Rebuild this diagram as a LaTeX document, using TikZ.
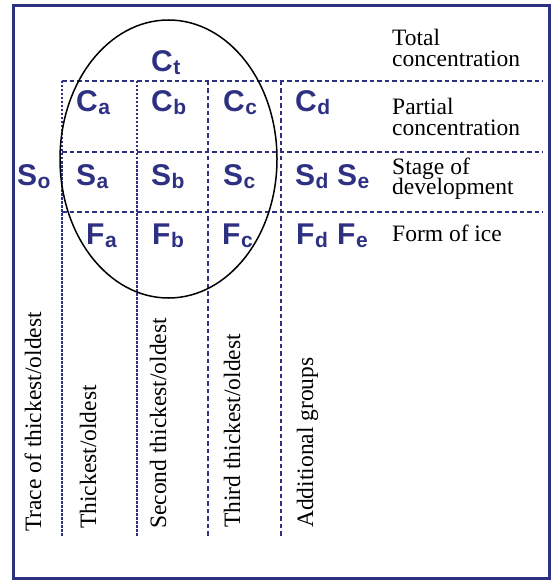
\documentclass[tikz,border=0pt]{standalone}
\usepackage{fontspec}
\setmainfont{Liberation Serif}
\newfontfamily\arialf{Liberation Sans}
\definecolor{navy}{RGB}{46,49,130}
\newcommand{\sym}[2]{{\arialf\bfseries\fontsize{30}{30}\selectfont #1\kern0.5pt\raisebox{-3pt}{\fontsize{21}{21}\selectfont #2}}}
\tikzset{
  frame/.style={draw=navy, line width=3pt},
  gridA/.style={draw=navy, line width=1.4pt, dash pattern=on 2.5pt off 1.5pt},
  gridB/.style={draw=navy, line width=1.6pt, dash pattern=on 4.5pt off 3pt},
  sym/.style={text=navy, anchor=base west, inner sep=0pt},
  lab/.style={anchor=base west, inner sep=0pt, font=\fontsize{23.5}{21}\selectfont},
  vlab/.style={anchor=base west, inner sep=0pt, rotate=90, font=\fontsize{23.5}{21}\selectfont},
  oval/.style={draw=black, line width=1.5pt}
}
\begin{document}
\begin{tikzpicture}[x=1pt,y=-1pt]
\useasboundingbox (0,0) rectangle (555,580);
\draw[frame] (13.5,5.5) rectangle (549.5,578);
% grid
\coordinate (h1l) at (62,81);  \coordinate (h1r) at (543,81);
\coordinate (h2l) at (62,152); \coordinate (h2r) at (543,152);
\coordinate (h3l) at (62,212); \coordinate (h3r) at (543,212);
\draw[gridB] (h1l) -- (h1r);
\draw[gridB] (h2l) -- (h2r);
\draw[gridB] (h3l) -- (h3r);
\coordinate (v1t) at (62,81);  \coordinate (v1b) at (62,536);
\coordinate (v2t) at (137,81); \coordinate (v2b) at (137,536);
\coordinate (v3t) at (208,81); \coordinate (v3b) at (208,536);
\coordinate (v4t) at (281,81); \coordinate (v4b) at (281,536);
\draw[gridA] (v1t) -- (v1b);
\draw[gridA] (v2t) -- (v2b);
\draw[gridB] (v3t) -- (v3b);
\draw[gridB] (v4t) -- (v4b);
% ellipse
\draw[oval] (168.5,159) ellipse [x radius=108.5, y radius=139];
% symbols
\node[sym] (Ct) at (151,72) {\sym{C}{t}};
\node[sym] (Ca) at (76,112) {\sym{C}{a}};
\node[sym] (Cb) at (151,112) {\sym{C}{b}};
\node[sym] (Cc) at (223,112) {\sym{C}{c}};
\node[sym] (Cd) at (295,112) {\sym{C}{d}};
\node[sym] (So) at (17,185) {\sym{S}{o}};
\node[sym] (Sa) at (76,185) {\sym{S}{a}};
\node[sym] (Sb) at (151,185) {\sym{S}{b}};
\node[sym] (Sc) at (223,185) {\sym{S}{c}};
\node[sym] (Sd) at (295,185) {\sym{S}{d}};
\node[sym] (Se) at (337,185) {\sym{S}{e}};
\node[sym] (Fa) at (86,244) {\sym{F}{a}};
\node[sym] (Fb) at (152,244) {\sym{F}{b}};
\node[sym] (Fc) at (222,244) {\sym{F}{c}};
\node[sym] (Fd) at (296,244) {\sym{F}{d}};
\node[sym] (Fe) at (337,244) {\sym{F}{e}};
% right labels
\node[lab] (tot1) at (392,46) {Total};
\node[lab] (tot2) at (392,67) {concentration};
\node[lab] (par1) at (392,115) {Partial};
\node[lab] (par2) at (392,136) {concentration};
\node[lab] (sta1) at (392,175) {Stage of};
\node[lab] (sta2) at (392,194) {development};
\node[lab] (for1) at (392,241) {Form of ice};
% vertical labels
\node[vlab] (trace) at (41,532) {Trace of thickest/oldest};
\node[vlab] (thick) at (96,529) {Thickest/oldest};
\node[vlab] (second) at (166,529) {Second thickest/oldest};
\node[vlab] (third) at (240,528) {Third thickest/oldest};
\node[vlab] (add) at (313,528) {Additional groups};
\end{tikzpicture}
\end{document}
